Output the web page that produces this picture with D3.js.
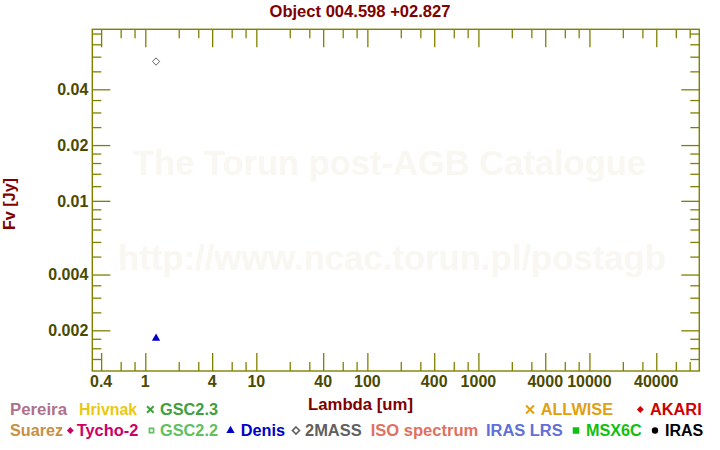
<!DOCTYPE html>
<html><head><meta charset="utf-8">
<script src="https://cdn.jsdelivr.net/npm/d3@7"></script>
<style>
html,body{margin:0;padding:0;background:#fff;}
svg{display:block;font-family:"Liberation Sans",Arial,sans-serif;font-weight:bold;}
</style></head>
<body>
<script>
// ---- data ----
const title = "Object 004.598 +02.827";
const xLabel = "Lambda [um]";
const yLabel = "Fv [Jy]";
const twomassLambda = [1.25];
const twomassFlux = [0.0565];
const denisLambda = [1.25];
const denisFlux = [0.00181];
const xMajorTicks = [0.4, 1, 4, 10, 40, 100, 400, 1000, 4000, 10000, 40000];
const xMajorLabels = ["0.4","1","4","10","40","100","400","1000","4000","10000","40000"];
const xMinorTicks = [0.6,0.8,2,3,6,8,20,30,60,80,200,300,600,800,2000,3000,6000,8000,20000,30000,60000,80000];
const yMajorTicks = [0.002, 0.004, 0.01, 0.02, 0.04];
const yMajorLabels = ["0.002","0.004","0.01","0.02","0.04"];
const yMinorTicks = [0.0014,0.0016,0.0018,0.0025,0.003,0.0035,0.005,0.006,0.007,0.008,0.009,0.012,0.014,0.016,0.018,0.025,0.03,0.035,0.05,0.06,0.07,0.08];
const legendRow1 = ["Pereira","Hrivnak","GSC2.3","ALLWISE","AKARI"];
const legendRow2 = ["Suarez","Tycho-2","GSC2.2","Denis","2MASS","ISO spectrum","IRAS LRS","MSX6C","IRAS"];
const watermark = ["The Torun post-AGB Catalogue","http://www.ncac.torun.pl/postagb"];

// ---- layout / style ----
const W = 720, H = 450;
const L = 92.3, R = 699.3, T = 29.3, B = 371;
const axisColor = "#808000", tickLabelColor = "#4a4a00", titleColor = "#800000";

const svg = d3.select("body").append("svg").attr("width", W).attr("height", H);

const x = d3.scaleLog().domain([0.3332, 97630]).range([L, R]);
const y = d3.scaleLog().domain([0.001206, 0.08433]).range([B, T]);

// watermark
const wm = [{t: watermark[0], x: 133, y: 175, w: 513}, {t: watermark[1], x: 118, y: 270, w: 548}];
svg.selectAll("text.wm").data(wm).join("text").attr("class","wm")
  .attr("x", d => d.x).attr("y", d => d.y)
  .attr("textLength", d => d.w).attr("lengthAdjust","spacingAndGlyphs")
  .attr("font-size", 35).attr("fill", "#f9f7f2").text(d => d.t);

// axes
function addAxis(axisGen, transform, vals, len) {
  const g = svg.append("g").attr("transform", transform)
    .call(axisGen.tickValues(vals).tickSize(len).tickFormat(""));
  g.select(".domain").remove();
  g.selectAll("line").attr("stroke", axisColor).attr("stroke-width", 1.3);
  return g;
}
// bottom (ticks upward)
addAxis(d3.axisTop(x), `translate(0,${B})`, xMajorTicks, 18);
addAxis(d3.axisTop(x), `translate(0,${B})`, xMinorTicks, 9);
// top (ticks downward)
addAxis(d3.axisBottom(x), `translate(0,${T})`, xMajorTicks, 18);
addAxis(d3.axisBottom(x), `translate(0,${T})`, xMinorTicks, 9);
// left (ticks rightward)
addAxis(d3.axisRight(y), `translate(${L},0)`, yMajorTicks, 18);
addAxis(d3.axisRight(y), `translate(${L},0)`, yMinorTicks, 9);
// right (ticks leftward)
addAxis(d3.axisLeft(y), `translate(${R},0)`, yMajorTicks, 18);
addAxis(d3.axisLeft(y), `translate(${R},0)`, yMinorTicks, 9);

svg.append("rect").attr("x", L).attr("y", T).attr("width", R - L).attr("height", B - T)
  .attr("fill", "none").attr("stroke", axisColor).attr("stroke-width", 1.4);

// tick labels
svg.selectAll("text.xl").data(xMajorTicks).join("text").attr("class","xl")
  .attr("x", d => x(d)).attr("y", 387).attr("text-anchor","middle")
  .attr("font-size", 16).attr("fill", tickLabelColor)
  .text((d,i) => xMajorLabels[i]);
svg.selectAll("text.yl").data(yMajorTicks).join("text").attr("class","yl")
  .attr("x", L - 4).attr("y", d => y(d) + 5.7).attr("text-anchor","end")
  .attr("font-size", 16).attr("fill", tickLabelColor)
  .text((d,i) => yMajorLabels[i]);

// title & labels
svg.append("text").attr("x", 360).attr("y", 17).attr("text-anchor","middle")
  .attr("font-size", 16).attr("fill", titleColor)
  .attr("textLength", 181).attr("lengthAdjust","spacingAndGlyphs").text(title);
svg.append("text").attr("x", 308).attr("y", 410)
  .attr("font-size", 16).attr("fill", titleColor)
  .attr("textLength", 105).attr("lengthAdjust","spacingAndGlyphs").text(xLabel);
svg.append("text").attr("transform", "translate(15,230) rotate(-90)")
  .attr("font-size", 16).attr("fill", titleColor)
  .attr("textLength", 52).attr("lengthAdjust","spacingAndGlyphs").text(yLabel);

// data marks
const diamond = d3.symbol().type(d3.symbolDiamond2).size(34);
const triangle = d3.symbol().type(d3.symbolTriangle).size(30);
svg.selectAll("path.tm").data(twomassLambda).join("path").attr("class","tm")
  .attr("d", diamond)
  .attr("transform", (d,i) => `translate(${x(d)},${y(twomassFlux[i])})`)
  .attr("fill", "none").attr("stroke", "#606060").attr("stroke-width", 1);
svg.selectAll("path.dn").data(denisLambda).join("path").attr("class","dn")
  .attr("d", triangle)
  .attr("transform", (d,i) => `translate(${x(d)},${y(denisFlux[i])})`)
  .attr("fill", "#0000c8");

// legend
const legendColors = {
  "Pereira":"#b0708a","Hrivnak":"#e8c810","GSC2.3":"#40a040","ALLWISE":"#e0a010","AKARI":"#d00000",
  "Suarez":"#c89040","Tycho-2":"#cc0066","GSC2.2":"#60c060","Denis":"#0000c8","2MASS":"#606060",
  "ISO spectrum":"#e07060","IRAS LRS":"#6070d8","MSX6C":"#10c010","IRAS":"#000000"
};
const legendPos = {
  "Pereira":[10,57],"Hrivnak":[79,58],"GSC2.3":[160,58],"ALLWISE":[540.7,72.3],"AKARI":[650,51.7],
  "Suarez":[10,53],"Tycho-2":[76.7,61.6],"GSC2.2":[160,58],"Denis":[240.7,44.3],"2MASS":[305,56.7],
  "ISO spectrum":[370.7,107.6],"IRAS LRS":[486,76.7],"MSX6C":[586,55.7],"IRAS":[665,38.3]
};
const legendMarkers = {
  "GSC2.3":{type:d3.symbolTimes, size:30, cx:150.3, fill:false},
  "ALLWISE":{type:d3.symbolTimes, size:42, cx:530, fill:false},
  "AKARI":{type:d3.symbolDiamond2, size:30, cx:640.3, fill:true},
  "Tycho-2":{type:d3.symbolDiamond2, size:30, cx:70.3, fill:true},
  "GSC2.2":{type:d3.symbolSquare2, size:22, cx:151.5, fill:false},
  "Denis":{type:d3.symbolTriangle, size:30, cx:230.5, fill:true},
  "2MASS":{type:d3.symbolDiamond2, size:32, cx:296, fill:false},
  "MSX6C":{type:d3.symbolSquare, size:42, cx:576, fill:true},
  "IRAS":{type:d3.symbolCircle, size:32, cx:655, fill:true}
};
[[legendRow1, 415], [legendRow2, 436]].forEach(([row, by]) => {
  row.forEach(name => {
    const [lx, lw] = legendPos[name];
    svg.append("text").attr("x", lx).attr("y", by).attr("font-size", 16)
      .attr("fill", legendColors[name]).attr("textLength", lw)
      .attr("lengthAdjust","spacingAndGlyphs").text(name);
    const m = legendMarkers[name];
    if (m) {
      const p = svg.append("path").attr("d", d3.symbol().type(m.type).size(m.size))
        .attr("transform", `translate(${m.cx},${by - 5.5})`);
      if (m.fill) p.attr("fill", legendColors[name]);
      else p.attr("fill","none").attr("stroke", legendColors[name]).attr("stroke-width", m.type === d3.symbolTimes ? 2 : 1.6);
    }
  });
});
</script>
</body></html>
